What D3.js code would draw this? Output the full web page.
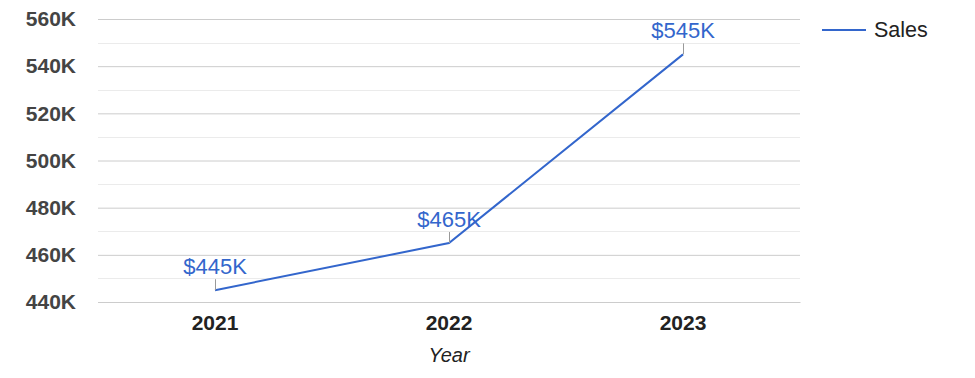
<!DOCTYPE html>
<html><head><meta charset="utf-8">
<script src="https://cdn.jsdelivr.net/npm/d3@7"></script>
<style>
body{margin:0;background:#fff;}
svg{display:block;font-family:Arial,"Liberation Sans",sans-serif;}
</style></head><body>
<svg id="c" width="975" height="378"></svg>
<script>
const categories = ["2021", "2022", "2023"];
const sales = [445000, 465000, 545000];
const yTicks = [440000, 460000, 480000, 500000, 520000, 540000, 560000];
const minorTicks = [450000, 470000, 490000, 510000, 530000, 550000];
const seriesName = "Sales";
const xTitle = "Year";

const svg = d3.select("#c");
const L = 98, R = 800, T = 19, B = 302;
const blue = "#3366cc";

const x = d3.scaleBand().domain(categories).range([L, R]);
const y = d3.scaleLinear().domain([440000, 560000]).range([B, T]);

// minor grid
svg.append("g").selectAll("line").data(minorTicks).join("line")
  .attr("x1", L).attr("x2", R)
  .attr("y1", d => Math.round(y(d)) + 0.5).attr("y2", d => Math.round(y(d)) + 0.5)
  .attr("stroke", "#ebebeb").attr("stroke-width", 1);

// y axis with major grid
const yAxis = d3.axisLeft(y).tickValues(yTicks)
  .tickFormat(d => d3.format("d")(d / 1000) + "K")
  .tickSize(-(R - L)).tickPadding(22);
const gy = svg.append("g").attr("transform", `translate(${L},0)`).call(yAxis);
gy.select(".domain").remove();
gy.selectAll(".tick line").attr("stroke", "#cccccc");
gy.selectAll(".tick text").attr("fill", "#444").attr("font-size", 21)
  .attr("font-weight", "bold").attr("font-family", "Arial, 'Liberation Sans', sans-serif");

// x axis
const xAxis = d3.axisBottom(x).tickSize(0).tickPadding(13);
const gx = svg.append("g").attr("transform", `translate(0,${B})`).call(xAxis);
gx.select(".domain").attr("stroke", "#cccccc");
gx.selectAll(".tick text").attr("fill", "#222").attr("font-size", 21)
  .attr("font-weight", "bold").attr("font-family", "Arial, 'Liberation Sans', sans-serif");

// axis title
svg.append("text").attr("x", x("2022") + x.bandwidth() / 2).attr("y", 362)
  .attr("text-anchor", "middle").attr("font-size", 20).attr("font-style", "italic")
  .attr("fill", "#222").text(xTitle);

// line
const cx = d => x(d) + x.bandwidth() / 2;
const line = d3.line().x((d, i) => cx(categories[i])).y(d => y(d));
svg.append("path").datum(sales).attr("d", line)
  .attr("fill", "none").attr("stroke", blue).attr("stroke-width", 2);

// annotations
const ann = svg.append("g").selectAll("g").data(sales).join("g");
ann.append("line")
  .attr("x1", (d, i) => Math.round(cx(categories[i])) + 0.5)
  .attr("x2", (d, i) => Math.round(cx(categories[i])) + 0.5)
  .attr("y1", d => y(d) - 11).attr("y2", d => y(d))
  .attr("stroke", "#999").attr("stroke-width", 1);
ann.append("text")
  .attr("x", (d, i) => cx(categories[i])).attr("y", d => y(d) - 16)
  .attr("text-anchor", "middle").attr("font-size", 22).attr("fill", blue)
  .text(d => "$" + d3.format("d")(d / 1000) + "K");

// legend
const lg = svg.append("g");
lg.append("line").attr("x1", 822).attr("x2", 866).attr("y1", 30).attr("y2", 30)
  .attr("stroke", blue).attr("stroke-width", 2);
lg.append("text").attr("x", 874).attr("y", 37).attr("font-size", 21.5)
  .attr("fill", "#222").text(seriesName);
</script>
</body></html>
